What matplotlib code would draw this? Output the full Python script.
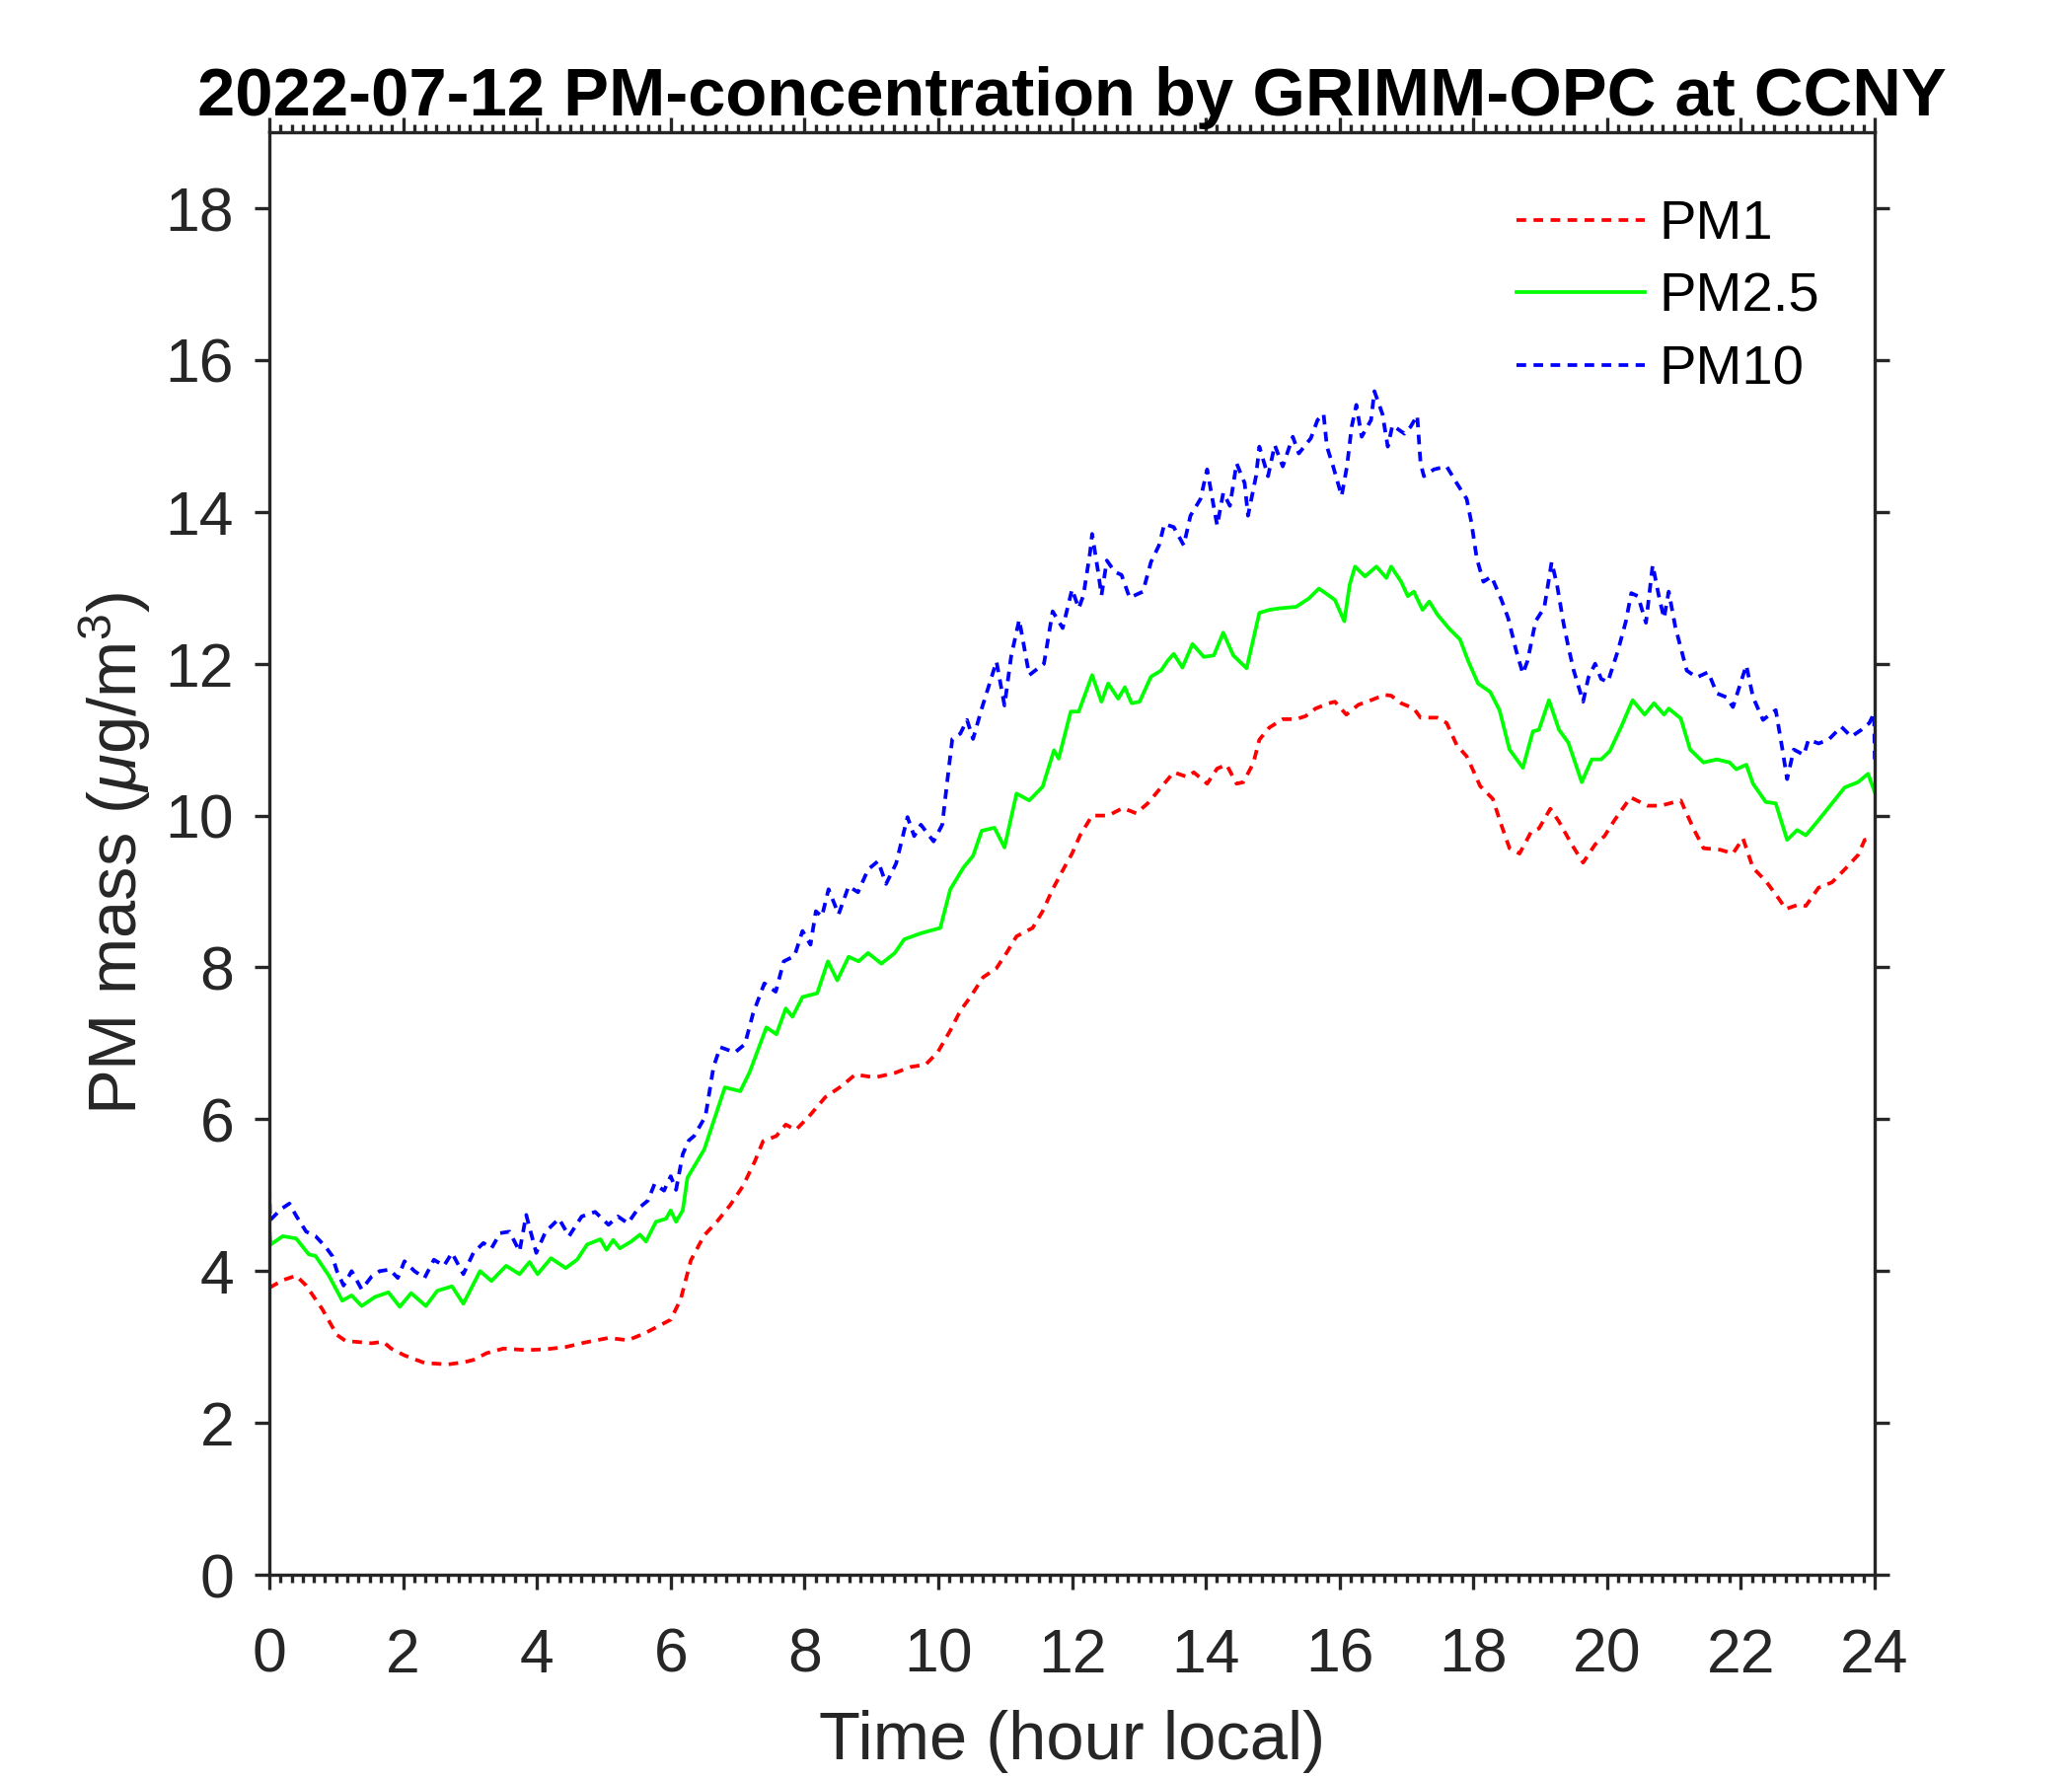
import numpy as np
import matplotlib
matplotlib.use("Agg")
from matplotlib import pyplot as plt
from matplotlib.ticker import MultipleLocator

plt.rcParams['font.family'] = ['Liberation Sans', 'DejaVu Sans']
plt.rcParams['mathtext.fontset'] = 'custom'
plt.rcParams['mathtext.rm'] = 'Liberation Sans'
plt.rcParams['mathtext.it'] = 'Liberation Sans:italic'

# PM1 (hour, ug/m3)
t_pm1 = [0.00, 0.20, 0.40, 0.55, 0.79, 1.01, 1.14, 1.28, 1.53, 1.70, 1.82, 2.02, 2.32, 2.51,
         2.66, 2.91, 3.05, 3.25, 3.50, 3.84, 4.13, 4.43, 4.72, 5.07, 5.36, 5.61, 5.85, 6.00,
         6.15, 6.30, 6.50, 6.69, 6.89, 7.08, 7.26, 7.38, 7.58, 7.72, 7.87, 8.07, 8.31, 8.56,
         8.76, 9.05, 9.35, 9.59, 9.81, 9.99, 10.18, 10.33, 10.48, 10.67, 10.87, 11.02, 11.17,
         11.41, 11.56, 11.71, 11.88, 12.00, 12.12, 12.30, 12.54, 12.76, 12.96, 13.13, 13.33,
         13.52, 13.72, 13.82, 14.02, 14.17, 14.31, 14.46, 14.56, 14.71, 14.80, 14.95, 15.15,
         15.35, 15.49, 15.64, 15.84, 15.93, 16.10, 16.28, 16.47, 16.67, 16.77, 16.92, 17.11,
         17.21, 17.46, 17.60, 17.75, 17.90, 18.02, 18.10, 18.29, 18.42, 18.54, 18.69, 18.86,
         18.98, 19.15, 19.28, 19.47, 19.64, 19.82, 19.96, 20.11, 20.35, 20.60, 20.80, 21.10,
         21.29, 21.44, 21.69, 21.88, 22.03, 22.18, 22.37, 22.57, 22.67, 22.87, 22.97, 23.16,
         23.36, 23.55, 23.75, 23.85, 23.97]
pm1 = [3.78, 3.88, 3.94, 3.81, 3.50, 3.16, 3.08, 3.07, 3.05, 3.07, 2.98, 2.89, 2.79, 2.78,
       2.77, 2.80, 2.83, 2.92, 2.98, 2.96, 2.97, 3.00, 3.06, 3.12, 3.09, 3.18, 3.29, 3.36,
       3.63, 4.14, 4.47, 4.65, 4.87, 5.12, 5.45, 5.71, 5.78, 5.93, 5.86, 6.04, 6.29, 6.44,
       6.59, 6.55, 6.61, 6.69, 6.72, 6.88, 7.17, 7.43, 7.61, 7.87, 7.99, 8.19, 8.41,
       8.52, 8.74, 9.03, 9.31, 9.50, 9.74, 10.00, 10.00, 10.10, 10.03, 10.16, 10.37,
       10.57, 10.51, 10.57, 10.42, 10.62, 10.67, 10.42, 10.44, 10.69, 11.00, 11.16, 11.27,
       11.27, 11.31, 11.41, 11.48, 11.50, 11.33, 11.46, 11.52, 11.59, 11.58, 11.48, 11.41,
       11.29, 11.29, 11.22, 10.93, 10.78, 10.55, 10.39, 10.22, 9.87, 9.57, 9.50, 9.78,
       9.83, 10.09, 9.92, 9.62, 9.38, 9.62, 9.73, 9.94, 10.24, 10.13, 10.13, 10.20,
       9.83, 9.57, 9.55, 9.50, 9.70, 9.31, 9.14, 8.90, 8.77, 8.83, 8.81, 9.05,
       9.12, 9.29, 9.48, 9.68, 9.70]

# PM2.5
t_pm25 = [0.00, 0.02, 0.20, 0.40, 0.59, 0.69, 0.89, 1.09, 1.23, 1.38, 1.58, 1.78, 1.95, 2.12,
          2.34, 2.51, 2.73, 2.90, 3.15, 3.32, 3.54, 3.74, 3.89, 4.01, 4.21, 4.43, 4.60, 4.75,
          4.95, 5.04, 5.14, 5.24, 5.41, 5.54, 5.63, 5.78, 5.93, 6.00, 6.08, 6.18, 6.25, 6.50,
          6.64, 6.81, 7.04, 7.18, 7.43, 7.58, 7.72, 7.82, 7.97, 8.19, 8.35, 8.49, 8.66, 8.81,
          8.95, 9.15, 9.35, 9.49, 9.74, 10.03, 10.18, 10.38, 10.52, 10.65, 10.84, 10.99, 11.17,
          11.36, 11.56, 11.73, 11.80, 11.98, 12.10, 12.20, 12.30, 12.44, 12.54, 12.69, 12.79,
          12.89, 13.01, 13.18, 13.33, 13.43, 13.52, 13.65, 13.80, 13.97, 14.12, 14.26, 14.41,
          14.61, 14.80, 14.95, 15.10, 15.35, 15.54, 15.69, 15.79, 15.93, 16.07, 16.15, 16.23,
          16.38, 16.55, 16.70, 16.77, 16.92, 17.02, 17.11, 17.24, 17.34, 17.46, 17.63, 17.80,
          17.92, 18.07, 18.25, 18.39, 18.54, 18.74, 18.89, 18.98, 19.13, 19.28, 19.42, 19.62,
          19.77, 19.91, 20.04, 20.21, 20.38, 20.56, 20.70, 20.85, 20.92, 21.10, 21.24, 21.44,
          21.64, 21.83, 21.93, 22.08, 22.18, 22.37, 22.52, 22.69, 22.84, 22.97, 23.16, 23.36,
          23.55, 23.75, 23.90, 24.00]
pm25 = [4.55, 4.35, 4.46, 4.43, 4.22, 4.20, 3.94, 3.61, 3.68, 3.54, 3.66, 3.72, 3.53, 3.71,
        3.54, 3.74, 3.80, 3.57, 4.00, 3.87, 4.07, 3.96, 4.12, 3.96, 4.17, 4.04, 4.15, 4.35,
        4.42, 4.28, 4.41, 4.30, 4.39, 4.48, 4.39, 4.65, 4.69, 4.80, 4.65, 4.80, 5.23, 5.60,
        5.97, 6.42, 6.37, 6.62, 7.21, 7.12, 7.46, 7.35, 7.61, 7.66, 8.08, 7.83, 8.14, 8.08,
        8.19, 8.05, 8.19, 8.37, 8.45, 8.52, 9.03, 9.32, 9.47, 9.80, 9.84, 9.58, 10.29,
        10.20, 10.38, 10.86, 10.75, 11.37, 11.37, 11.61, 11.85, 11.50, 11.74, 11.54, 11.69,
        11.48, 11.50, 11.83, 11.91, 12.04, 12.13, 11.95, 12.26, 12.09, 12.11, 12.41, 12.11,
        11.94, 12.67, 12.71, 12.73, 12.75, 12.86, 12.99, 12.93, 12.84, 12.56, 13.04, 13.28,
        13.15, 13.28, 13.13, 13.28, 13.08, 12.89, 12.95, 12.71, 12.82, 12.65, 12.47, 12.32,
        12.04, 11.74, 11.63, 11.39, 10.87, 10.63, 11.11, 11.13, 11.52, 11.13, 10.96, 10.44,
        10.74, 10.74, 10.85, 11.17, 11.52, 11.33, 11.48, 11.33, 11.41, 11.28, 10.87, 10.70,
        10.74, 10.70, 10.61, 10.67, 10.42, 10.18, 10.16, 9.68, 9.81, 9.74, 9.94, 10.16,
        10.37, 10.44, 10.55, 10.31]

# PM10
t_pm10 = [0.00, 0.01, 0.18, 0.30, 0.40, 0.55, 0.69, 0.84, 0.94, 1.01, 1.11, 1.23, 1.38, 1.53,
          1.65, 1.80, 1.92, 2.02, 2.17, 2.32, 2.46, 2.61, 2.73, 2.90, 3.05, 3.20, 3.32, 3.45,
          3.59, 3.74, 3.84, 3.99, 4.13, 4.33, 4.48, 4.67, 4.87, 5.07, 5.21, 5.36, 5.51, 5.66,
          5.76, 5.90, 6.00, 6.08, 6.18, 6.27, 6.35, 6.52, 6.64, 6.74, 6.96, 7.11, 7.23, 7.40,
          7.57, 7.69, 7.85, 7.97, 8.09, 8.17, 8.26, 8.36, 8.51, 8.66, 8.80, 8.95, 9.10, 9.22,
          9.37, 9.54, 9.64, 9.74, 9.93, 10.06, 10.13, 10.21, 10.33, 10.43, 10.52, 10.65, 10.87,
          10.99, 11.09, 11.21, 11.36, 11.58, 11.71, 11.86, 12.00, 12.10, 12.17, 12.27, 12.30,
          12.39, 12.44, 12.52, 12.64, 12.74, 12.86, 13.06, 13.18, 13.30, 13.38, 13.52, 13.67,
          13.77, 13.92, 14.02, 14.12, 14.17, 14.26, 14.36, 14.46, 14.58, 14.63, 14.75, 14.80,
          14.93, 15.03, 15.15, 15.30, 15.39, 15.57, 15.67, 15.76, 15.81, 15.89, 16.03, 16.11,
          16.18, 16.25, 16.33, 16.47, 16.52, 16.64, 16.72, 16.79, 16.97, 17.06, 17.16, 17.21,
          17.26, 17.41, 17.60, 17.75, 17.90, 17.97, 18.05, 18.15, 18.27, 18.42, 18.52, 18.64,
          18.74, 18.81, 18.93, 19.06, 19.17, 19.25, 19.35, 19.42, 19.50, 19.64, 19.72, 19.82,
          19.91, 20.01, 20.16, 20.28, 20.36, 20.46, 20.58, 20.68, 20.78, 20.85, 20.92, 21.02,
          21.19, 21.34, 21.51, 21.64, 21.78, 21.88, 22.08, 22.18, 22.33, 22.52, 22.62, 22.69,
          22.79, 22.94, 23.01, 23.16, 23.31, 23.50, 23.65, 23.80, 23.92, 23.99, 24.00]
pm10 = [5.11, 4.67, 4.82, 4.89, 4.73, 4.52, 4.46, 4.32, 4.20, 4.00, 3.81, 4.00, 3.76, 3.93,
        4.00, 4.02, 3.91, 4.13, 4.00, 3.91, 4.15, 4.07, 4.24, 3.96, 4.24, 4.37, 4.30, 4.50,
        4.52, 4.26, 4.74, 4.24, 4.52, 4.69, 4.46, 4.72, 4.78, 4.61, 4.72, 4.63, 4.82, 4.93,
        5.15, 5.06, 5.25, 5.07, 5.54, 5.72, 5.78, 6.04, 6.69, 6.95, 6.88, 6.99, 7.39, 7.79,
        7.68, 8.08, 8.15, 8.48, 8.30, 8.74, 8.67, 9.03, 8.70, 9.07, 8.99, 9.29, 9.40, 9.10,
        9.37, 9.98, 9.73, 9.88, 9.66, 9.88, 10.42, 11.01, 11.08, 11.26, 11.01, 11.41, 12.03,
        11.45, 12.10, 12.58, 11.85, 12.00, 12.69, 12.47, 12.98, 12.73, 12.90, 13.47, 13.71,
        13.21, 12.90, 13.36, 13.21, 13.17, 12.87, 12.95, 13.34, 13.56, 13.84, 13.80, 13.56,
        13.95, 14.17, 14.56, 14.06, 13.82, 14.25, 14.08, 14.64, 14.38, 13.95, 14.47, 14.86,
        14.47, 14.88, 14.60, 14.99, 14.77, 14.97, 15.21, 15.29, 14.86, 14.64, 14.21, 14.60,
        15.12, 15.41, 14.99, 15.21, 15.59, 15.29, 14.86, 15.14, 15.03, 15.12, 15.27, 14.64,
        14.47, 14.56, 14.60, 14.38, 14.17, 13.86, 13.39, 13.08, 13.15, 12.84, 12.60, 12.17,
        11.87, 12.04, 12.56, 12.74, 13.34, 13.04, 12.52, 12.22, 11.91, 11.50, 11.82, 12.00,
        11.80, 11.76, 12.17, 12.56, 12.93, 12.89, 12.54, 13.30, 12.86, 12.60, 12.95, 12.48,
        11.91, 11.82, 11.89, 11.61, 11.56, 11.43, 11.98, 11.56, 11.26, 11.39, 10.87, 10.48,
        10.87, 10.80, 11.00, 10.95, 11.00, 11.17, 11.04, 11.13, 11.22, 11.35, 10.74]

series = [
    (t_pm1, pm1, 'PM1', '#ff0000', (0, (2.6, 2.0))),
    (t_pm25, pm25, 'PM2.5', '#00ff00', '-'),
    (t_pm10, pm10, 'PM10', '#0000ff', (0, (2.6, 2.0))),
]

dark = '#262626'

fig = plt.figure(figsize=(7, 6), dpi=300)
ax = fig.add_axes([0.13, 0.1133, 0.7748, 0.8122])

for t, v, name, c, ls in series:
    ax.plot(np.array(t), np.array(v), color=c, linestyle=ls, linewidth=0.9, label=name)

ax.set_xlim(0, 24)
ax.set_ylim(0, 19)
ax.xaxis.set_major_locator(MultipleLocator(2))
ax.xaxis.set_minor_locator(MultipleLocator(1 / 6))
ax.yaxis.set_major_locator(MultipleLocator(2))

ax.tick_params(which='both', direction='out', top=True, right=True,
               color=dark, labelcolor=dark, width=0.8)
ax.tick_params(which='major', length=3.6, labelsize=15)
ax.tick_params(which='minor', length=1.9)
ax.tick_params(axis='x', which='major', pad=9)
ax.tick_params(axis='y', which='major', pad=5)
for s in ax.spines.values():
    s.set_color(dark)
    s.set_linewidth(0.8)

ax.set_xlabel('Time (hour local)', fontsize=16.5, color=dark, labelpad=6)
ax.set_ylabel(r'PM mass ($\mu$g/m$^3$)', fontsize=16.5, color=dark, labelpad=3)
ax.set_title('2022-07-12 PM-concentration by GRIMM-OPC at CCNY',
             fontsize=16.5, fontweight='bold', pad=4)

ax.legend(loc='upper left', bbox_to_anchor=(0.746, 0.988), frameon=False,
          fontsize=13.5, handlelength=2.31, handletextpad=0.25, labelspacing=0.385)

fig.savefig('out.png', dpi=300)
